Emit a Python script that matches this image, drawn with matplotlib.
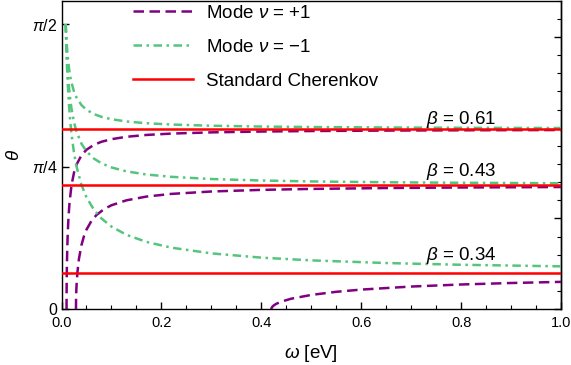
import numpy as np
import matplotlib
matplotlib.use("Agg")
import matplotlib.pyplot as plt
from matplotlib.ticker import MultipleLocator

plt.rcParams['font.family'] = ['Liberation Sans', 'DejaVu Sans']
plt.rcParams['mathtext.fontset'] = 'custom'
plt.rcParams['mathtext.rm'] = 'Liberation Sans'
plt.rcParams['mathtext.it'] = 'Liberation Sans:italic'
plt.rcParams['mathtext.bf'] = 'Liberation Sans:bold'

# ---------------- data ----------------
# Mode nu = -1 (green), common omega grid [eV]
omega_minus = [0.0084, 0.009, 0.01, 0.011, 0.0125, 0.015, 0.0175, 0.02, 0.025, 0.03,
               0.04, 0.05, 0.065, 0.08, 0.1, 0.13, 0.17, 0.22, 0.3, 0.4, 0.5, 0.65, 0.8, 1.0]
theta_minus_061 = [1.5708, 1.5344, 1.4833, 1.4413, 1.3906, 1.3280, 1.2827, 1.2483, 1.1995, 1.1664,
                   1.1244, 1.0988, 1.0749, 1.0598, 1.0466, 1.0343, 1.0246, 1.0174, 1.0108, 1.0063,
                   1.0036, 1.0011, 0.9995, 0.9982]
theta_minus_043 = [1.5708, 1.5191, 1.4464, 1.3865, 1.3137, 1.2227, 1.1559, 1.1045, 1.0301, 0.9787,
                   0.9117, 0.8698, 0.8298, 0.8041, 0.7812, 0.7596, 0.7423, 0.7294, 0.7174, 0.7092,
                   0.7041, 0.6995, 0.6966, 0.6940]
theta_minus_034 = [1.5708, 1.5054, 1.4133, 1.3369, 1.2434, 1.1248, 1.0358, 0.9660, 0.8619, 0.7871,
                   0.6849, 0.6169, 0.5477, 0.5003, 0.4555, 0.4102, 0.3710, 0.3394, 0.3080, 0.2845,
                   0.2694, 0.2548, 0.2452, 0.2365]

# Mode nu = +1 (purple)
omega_plus_061 = [0.01012, 0.0102, 0.0104, 0.0108, 0.0115, 0.0125, 0.014, 0.016, 0.02, 0.025,
                  0.03, 0.04, 0.05, 0.065, 0.08, 0.1, 0.13, 0.17, 0.22, 0.3, 0.4, 0.5, 0.65, 0.8, 1.0]
theta_plus_061 = [0.0, 0.0841, 0.1563, 0.2395, 0.3314, 0.4186, 0.5068, 0.5857, 0.6826, 0.7524,
                  0.7962, 0.8484, 0.8786, 0.9058, 0.9225, 0.9368, 0.9499, 0.9601, 0.9676, 0.9743,
                  0.9789, 0.9817, 0.9842, 0.9858, 0.9872]
omega_plus_043 = [0.028966, 0.0291, 0.0293, 0.0297, 0.0305, 0.032, 0.035, 0.04, 0.045, 0.05,
                  0.06, 0.07, 0.085, 0.1, 0.13, 0.17, 0.22, 0.3, 0.4, 0.5, 0.65, 0.8, 1.0]
theta_plus_043 = [0.0, 0.0456, 0.0717, 0.1055, 0.1505, 0.2069, 0.2793, 0.3540, 0.4030, 0.4384,
                  0.4870, 0.5192, 0.5514, 0.5729, 0.6001, 0.6207, 0.6355, 0.6487, 0.6576, 0.6629,
                  0.6678, 0.6708, 0.6734]
omega_plus_034 = [0.42, 0.4205, 0.422, 0.425, 0.43, 0.44, 0.46, 0.5, 0.55, 0.6, 0.7, 0.8, 0.9, 1.0]
theta_plus_034 = [0.0, 0.0069, 0.0136, 0.0215, 0.0302, 0.0422, 0.0584, 0.0792, 0.0963, 0.1085,
                  0.1253, 0.1366, 0.1448, 0.1510]

# Standard Cherenkov angles (horizontal lines)
beta_labels = ["0.61", "0.43", "0.34"]
theta_cherenkov = [0.9927, 0.6838, 0.1984]
label_theta = [1.043, 0.758, 0.299]
label_omega = 0.80

legend_labels = ["Mode $\\nu$ = +1", "Mode $\\nu$ = \u22121", "Standard Cherenkov"]
xtick_vals = [0.0, 0.2, 0.4, 0.6, 0.8, 1.0]
xtick_labels = ["0.0", "0.2", "0.4", "0.6", "0.8", "1.0"]
ytick_vals = [0.0, np.pi / 4, np.pi / 2]
ytick_labels = ["0", "$\\pi$/4", "$\\pi$/2"]

# ---------------- figure ----------------
W, H = 571, 365
fig = plt.figure(figsize=(W / 100, H / 100), dpi=100)
ax = fig.add_axes([61.5 / W, 1 - 309.3 / H, (561 - 61.5) / W, (309.3 - 0.5) / H])

purple = '#800080'
green = '#55C57E'
red = '#FF0000'
lw = 1.8

pl_kw = dict(color=purple, lw=lw, dashes=(4.2, 2.2), dash_capstyle='butt', zorder=3)
gr_kw = dict(color=green, lw=lw, dashes=(3.4, 1.8, 1.0, 1.8), dash_capstyle='butt', zorder=3)

h1, = ax.plot(omega_plus_061, theta_plus_061, **pl_kw)
ax.plot(omega_plus_043, theta_plus_043, **pl_kw)
ax.plot(omega_plus_034, theta_plus_034, **pl_kw)

h2, = ax.plot(omega_minus, theta_minus_061, **gr_kw)
ax.plot(omega_minus, theta_minus_043, **gr_kw)
ax.plot(omega_minus, theta_minus_034, **gr_kw)

h3 = None
for th in theta_cherenkov:
    h3 = ax.axhline(th, color=red, lw=1.8, zorder=4)

for lab, th in zip(beta_labels, label_theta):
    ax.text(label_omega, th, "$\\beta$ = " + lab, ha='center', va='center', fontsize=13.5, zorder=5)

ax.set_xlim(0, 1.0)
ax.set_ylim(0, 1.7004)

ax.set_xticks(xtick_vals)
ax.set_xticklabels(xtick_labels)
ax.xaxis.set_minor_locator(MultipleLocator(0.05))
ax.set_yticks(ytick_vals)
ax.set_yticklabels(ytick_labels)
ax.tick_params(axis='x', which='major', direction='in', length=5, width=1.0,
               labelsize=10.5, pad=5)
ax.tick_params(axis='y', which='major', direction='in', length=5, width=1.0,
               labelsize=11.5, pad=3)
ax.tick_params(axis='x', which='minor', direction='in', length=3, width=0.8)
ax.tick_params(axis='y', which='minor', left=False)

sec = ax.secondary_yaxis('right')
sec.yaxis.set_major_locator(MultipleLocator(0.5))
sec.yaxis.set_minor_locator(MultipleLocator(0.1))
sec.tick_params(which='major', direction='in', length=5, width=1.0, labelright=False)
sec.tick_params(which='minor', direction='in', length=3, width=0.8)
sec.spines['right'].set_linewidth(1.0)

for s in ax.spines.values():
    s.set_linewidth(1.0)
    s.set_color('black')

ax.set_xlabel("$\\omega$ [eV]", fontsize=13.5, labelpad=9)
ax.set_ylabel("$\\theta$", fontsize=13.5, labelpad=6)

leg = ax.legend([h1, h2, h3], legend_labels, loc='upper left',
                bbox_to_anchor=(133 / W, 1 - 4.5 / H), bbox_transform=fig.transFigure,
                frameon=False, fontsize=13.5, handlelength=3.2, handletextpad=0.72,
                labelspacing=0.9, borderpad=0.0, borderaxespad=0.0)

fig.savefig("out.png", dpi=100)
